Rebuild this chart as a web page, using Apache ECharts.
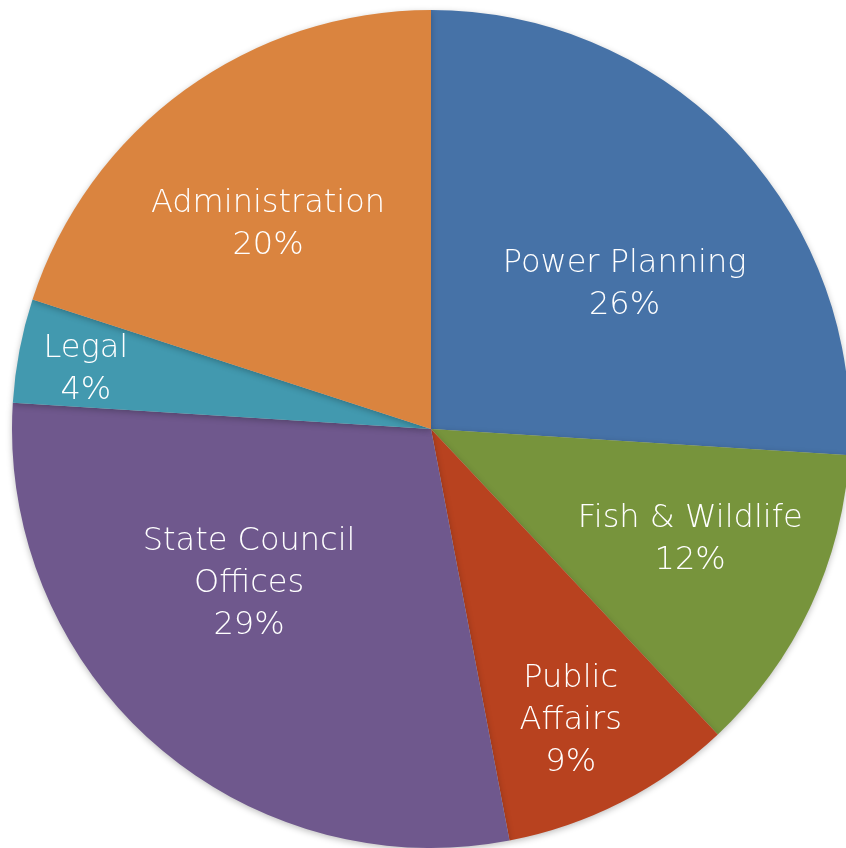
<!DOCTYPE html>
<html>
<head>
<meta charset="utf-8">
<script src="https://cdn.jsdelivr.net/npm/echarts@6/dist/echarts.min.js"></script>
<style>html,body{margin:0;padding:0;background:#fff}#c{width:846px;height:848px}</style>
</head>
<body>
<div id="c"></div>
<script>
const categories = ['Power Planning', 'Fish & Wildlife', 'Public\nAffairs', 'State Council\nOffices', 'Legal', 'Administration'];
const values = [26, 12, 9, 29, 4, 20];
const colors = ['#4672A7', '#77943C', '#B8421F', '#6F588D', '#4299AF', '#DA843F'];
// label placement (angle clockwise from top in degrees, fraction of radius)
const labelAngles = [52.8, 112.6, 154.2, 230.1, 280.2, 321.8];
const labelRadii = [0.58, 0.67, 0.766, 0.566, 0.837, 0.629];

const CX = 431, CY = 429, R = 419;
const chart = echarts.init(document.getElementById('c'), null, {renderer: 'canvas'});
chart.setOption({
  animation: false,
  series: [{
    type: 'pie',
    center: [CX, CY],
    radius: [0, R],
    startAngle: 90,
    clockwise: true,
    percentPrecision: 0,
    avoidLabelOverlap: false,
    itemStyle: {borderWidth: 0, shadowBlur: 6, shadowColor: 'rgba(0,0,0,0.25)', shadowOffsetY: 2},
    label: {
      show: true,
      position: 'inside',
      formatter: '{b}\n{d}%',
      color: '#fff',
      fontFamily: 'DejaVu Sans',
      fontWeight: 200,
      fontSize: 32,
      lineHeight: 42,
      align: 'center'
    },
    labelLine: {show: false},
    labelLayout: function (p) {
      const a = labelAngles[p.dataIndex] * Math.PI / 180;
      const r = labelRadii[p.dataIndex] * R;
      return {x: CX + r * Math.sin(a), y: CY - r * Math.cos(a) + 3, align: 'center', verticalAlign: 'middle'};
    },
    data: categories.map((n, i) => ({name: n, value: values[i], itemStyle: {color: colors[i]}}))
  }]
});
</script>
</body>
</html>
